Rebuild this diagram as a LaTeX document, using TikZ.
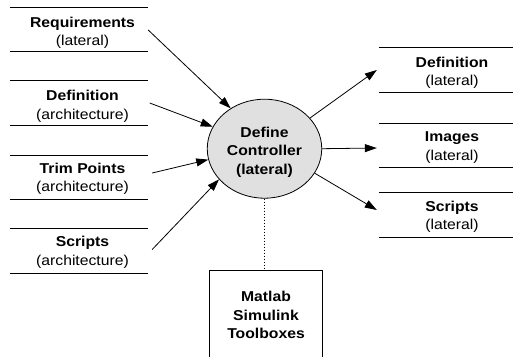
\documentclass[tikz,border=0pt]{standalone}
\usepackage{fontspec}
\setmainfont{Liberation Sans}[FakeStretch=1.1]
\usetikzlibrary{arrows.meta,shapes.geometric}
\begin{document}
\begin{tikzpicture}[x=1pt,y=-1pt,
  every node/.style={font=\fontsize{14.3}{18.5}\selectfont},
  storebox/.style={rectangle,inner sep=0pt,minimum height=44pt},
  storeline/.style={line width=0.9pt},
  lbl/.style={align=center,inner sep=0pt},
  arr/.style={line width=0.8pt,-{Triangle[length=12pt,width=8pt]}},
  process/.style={ellipse,draw,line width=0.8pt,fill=black!12,inner sep=0pt,
    minimum width=114.5pt,minimum height=99pt},
  toolbox/.style={rectangle,draw,line width=0.9pt,inner sep=0pt,
    minimum width=113.4pt,minimum height=120pt}]
\useasboundingbox (0,0) rectangle (513,356);
\clip (0,0) rectangle (513,356);

% input data stores (left)
\node[storebox,minimum width=138pt] (req)  at (79,29.5) {};
\node[storebox,minimum width=138pt] (defa) at (79,103)  {};
\node[storebox,minimum width=138pt] (trim) at (79,177.5) {};
\node[storebox,minimum width=138pt] (scra) at (79,251)  {};
% output data stores (right)
\node[storebox,minimum width=134pt] (defl) at (446,70)   {};
\node[storebox,minimum width=134pt] (img)  at (446,145.5) {};
\node[storebox,minimum width=134pt] (scrl) at (446,215)  {};

\foreach \s in {req,defa,trim,scra,defl,img,scrl}
  \draw[storeline] (\s.north west) -- (\s.north east)
                   (\s.south west) -- (\s.south east);

\node[lbl] (reqt)  at (82.5,33)   {\textbf{Requirements}\\(lateral)};
\node[lbl] (defat) at (82.5,106.5) {\textbf{Definition}\\(architecture)};
\node[lbl] (trimt) at (82.5,179)  {\textbf{Trim Points}\\(architecture)};
\node[lbl] (scrat) at (82.5,252.5) {\textbf{Scripts}\\(architecture)};
\node[lbl] (deflt) at (452,73)    {\textbf{Definition}\\(lateral)};
\node[lbl] (imgt)  at (452,147.5) {\textbf{Images}\\(lateral)};
\node[lbl] (scrlt) at (452,217)   {\textbf{Scripts}\\(lateral)};

% central process
\node[process] (ctrl) at (264.5,148.7) {};
\node[lbl] (ctrlt) at (264.5,152) {\textbf{Define}\\\textbf{Controller}\\\textbf{(lateral)}};

% tool box
\node[toolbox] (box) at (266,330) {};
\node[lbl] (boxt) at (266,315) {\textbf{Matlab}\\\textbf{Simulink}\\\textbf{Toolboxes}};

% flows
\draw[arr] ([yshift=-0.5pt]req.east) -- (ctrl.130.5);
\draw[arr] ([xshift=1.5pt]defa.east) -- (ctrl.157);
\draw[arr] ([xshift=4pt,yshift=4.5pt]trim.east) -- (ctrl.191.5);
\draw[arr] ([xshift=4pt,yshift=1.5pt]scra.east) -- (ctrl.214);
\draw[arr] (ctrl.34) -- ([xshift=-2pt]defl.west);
\draw[arr] (ctrl.0) -- ([xshift=-2pt,yshift=-2.5pt]img.west);
\draw[arr] (ctrl.-26.5) -- ([xshift=-2pt,yshift=5pt]scrl.west);
\draw[line width=0.8pt,dash pattern=on 1.5pt off 1.5pt] (ctrl.south) -- (ctrl.south |- box.north);
\end{tikzpicture}
\end{document}
